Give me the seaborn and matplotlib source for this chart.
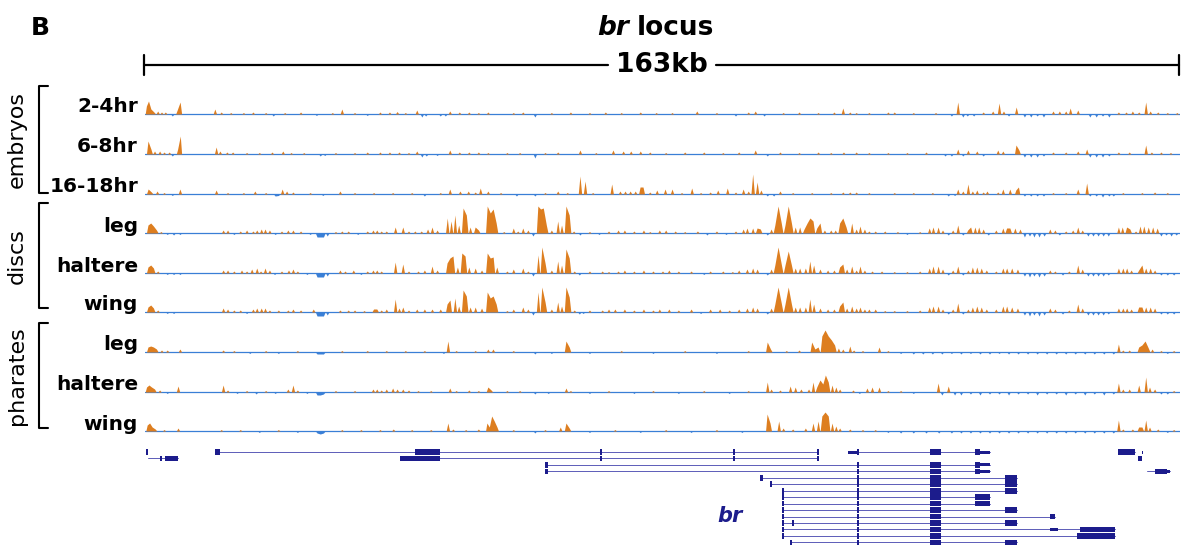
import matplotlib
matplotlib.use("Agg")
import matplotlib.pyplot as plt
from matplotlib.patches import Rectangle
import pandas as pd
import seaborn as sns

sns.set_theme(style="white")
plt.rcParams["font.family"] = ["DejaVu Sans"]
plt.rcParams["text.color"] = "black"

# ---------------------------------------------------------------- data
LOCUS_KB = 163

# ATAC-style signal per sample: (position in kb, signal); negatives are depletion
emb_2_4hr = [(0.3, 8), (0.5, 13), (0.9, 5), (1.4, 2), (2.0, 3), (2.6, 2), (3.2, 2), (4.3, -2), (5.1, 4), (5.5, 12),
             (11.0, 5), (12.0, 2), (13.5, 1.5), (15.5, 1.5), (17.0, 2), (19.0, 1.5), (20.2, -2), (22.0, 1.5), (24.5, 2),
             (27.0, -1.5), (29.5, 1.5), (31.0, 5), (33.0, 1.5), (35.0, -1.5), (37.0, 2), (38.5, 2), (39.7, 2.5),
             (41.0, 1.5), (42.8, 4), (43.6, -3), (44.2, -2), (46.5, -2), (47.3, -2), (48.0, 3), (49.5, 2), (51.0, 2),
             (52.5, 1.5), (54.0, 2), (58.0, 1.5), (59.5, 2), (61.4, -3), (64.0, 1.5), (67.0, 2), (70.0, 1.5), (72.5, 2),
             (75.0, 1.5), (78.0, 2), (80.5, 1.5), (83.0, 1.5), (86.9, 3), (90.0, 1.5), (93.0, -2), (95.0, 2), (96.1, 3),
             (97.5, -2), (100.5, 1.5), (103.0, 2), (106.0, 1.5), (108.5, 2), (109.9, 6), (111.0, 2), (112.0, 1.5),
             (114.0, 1.5), (117.0, 2), (118.0, 2), (121.0, 1.5), (124.5, 1.5), (127.0, -2), (128.0, 12), (128.8, -3),
             (129.5, -2), (130.5, -2), (132.0, 2), (133.5, 3), (134.5, 11), (135.2, 3), (136.0, -2), (137.2, 7),
             (138.5, -3), (139.5, -3), (140.5, -2), (141.5, -3), (143.0, 3), (144.0, 3), (145.0, 3), (145.7, 6),
             (146.9, 4), (148.8, -3), (149.8, -3), (150.8, -2), (151.8, -3), (153.3, 2), (154.5, 2), (155.5, 3),
             (156.5, 2), (157.6, 12), (158.3, 3), (159.5, 2), (161.0, 1.5), (162.5, 1.5)]

emb_6_8hr = [(0.5, 13), (0.9, 5), (1.5, 3), (2.3, 3), (3.0, 2), (3.8, 2), (4.3, -2), (5.2, 5), (5.5, 18),
             (11.2, 7), (11.8, 3), (12.9, 2), (13.8, 2), (16.0, 1.5), (18.0, 1.5), (20.0, 2), (21.7, 3), (23.0, 1.5),
             (25.0, 1.5), (27.6, -2), (28.3, -1.5), (30.0, 1.5), (33.0, 1.5), (35.0, 2), (37.0, 2), (38.5, 2), (40.0, 2),
             (41.5, 1.5), (42.8, 3), (43.6, -3), (44.3, -2), (46.0, -1.5), (48.0, 4), (49.5, 2), (51.0, 2), (52.5, 2),
             (54.0, 1.5), (57.0, 1.5), (59.0, 1.5), (61.4, -4), (63.0, 1.5), (65.0, 2), (68.5, 4), (71.0, 1.5),
             (73.7, 4), (75.3, 3), (76.5, 3), (78.0, 3), (79.5, 2), (82.0, 1.5), (85.0, 2), (88.0, 2), (91.0, 1.5),
             (93.5, 2), (96.1, 4), (98.0, -2), (100.0, 2), (103.0, 1.5), (106.0, 2), (108.0, 1.5), (110.0, 2),
             (112.0, 2), (114.0, 1.5), (117.0, 1.5), (120.0, 1.5), (123.0, 2), (126.0, -2), (127.0, -2), (128.0, 5),
             (128.8, -2), (129.6, 4), (131.0, 3), (132.0, -2), (134.3, 4), (135.1, 3), (137.2, 9), (137.6, 4),
             (138.5, -3), (139.5, -3), (140.5, -3), (141.5, -2), (143.0, 2), (145.0, 2), (146.9, 3), (148.3, 5),
             (148.8, -3), (149.8, -3), (150.8, -3), (151.8, -2), (153.3, 2), (155.0, 2), (157.6, 9), (158.5, 2),
             (160.0, 2), (161.5, 1.5)]

emb_16_18hr = [(0.5, 5), (1.0, 2), (1.9, 3), (3.0, 1.5), (4.3, -1.5), (5.5, 5), (11.2, 4), (13.0, 1.5), (15.5, 1.5),
               (17.3, 3), (19.0, 1.5), (20.5, -2), (21.0, -1.5), (21.6, 5), (22.3, 3), (23.3, 2), (26.0, 1.5),
               (28.0, -1.5), (30.7, 3), (33.0, 1.5), (36.0, 1.5), (39.0, 1.5), (42.0, 1.5), (44.0, -2), (46.5, 1.5),
               (48.0, 5), (49.6, 3), (50.9, 3), (52.0, 2), (52.8, 6), (54.0, 3), (56.0, 1.5), (58.5, -2), (61.4, -2),
               (63.0, 1.5), (65.0, 3), (66.5, 1.5), (68.5, 18), (69.3, 13), (70.5, 1.5), (73.5, 10), (74.8, 3),
               (75.6, 3), (76.4, 3), (77.2, 3), (78.0, 7), (78.4, 7), (79.5, 2), (80.6, 4), (81.9, 5), (83.0, 5),
               (84.5, 1.5), (86.1, 6), (87.5, 1.5), (89.0, 2), (90.2, 4), (91.7, 6), (93.0, 2), (94.2, 5), (95.0, 3),
               (95.7, 20), (96.4, 12), (97.0, 4), (98.0, -2), (99.0, -2), (100.0, 3), (102.0, 1.5), (105.0, 1.5),
               (108.0, 1.5), (109.9, 2), (111.0, 2), (112.0, 2), (114.0, 1.5), (118.0, 1.5), (121.0, 1.5), (124.0, 1.5),
               (126.5, -2), (127.5, -1.5), (128.0, 5), (128.8, 3), (129.6, 10), (130.3, 3), (131.0, 4), (132.0, 2),
               (132.6, 3), (134.3, 2), (135.1, 5), (136.2, 5), (137.2, 4), (137.5, 7), (138.5, -2), (139.5, -2),
               (140.5, -2), (141.5, -2), (143.0, 1.5), (145.0, 1.5), (146.9, 5), (148.3, 11), (148.8, -2), (149.8, -2),
               (150.8, -3), (151.8, -2), (152.5, -2), (154.0, 1.5), (157.0, 1.5), (159.0, 2), (161.0, 1.5)]

disc_leg = [(0.5, 8), (0.9, 10), (1.3, 7), (1.8, 3), (2.5, 1.5), (3.5, -1.5), (4.5, -2), (5.5, -1.5), (12.3, 3),
            (13.0, 3), (14.0, -1.5), (15.0, 2), (16.0, 3), (17.0, 2), (17.6, 3), (18.3, 4), (18.9, 4), (19.6, 3),
            (20.5, -1.5), (21.5, 2), (22.5, 3), (23.3, 3), (24.5, 2), (26.0, -1.5), (27.1, -4), (27.6, -4), (28.1, -4),
            (28.7, -3), (30.0, 1.5), (31.0, 2), (32.0, 2), (33.5, -1.5), (35.0, 2), (35.9, 3), (36.5, 3), (37.2, 2),
            (38.0, 2), (39.4, 6), (40.6, 6), (41.5, 2), (42.5, 2), (43.5, 2), (44.5, 4), (45.2, 6), (46.0, 3),
            (47.6, 15), (48.2, 12), (48.8, 18), (49.4, 8), (50.1, 25), (50.6, 18), (51.2, 6), (52.0, 6), (52.5, 3),
            (53.9, 27), (54.4, 20), (54.8, 24), (55.3, 10), (56.5, 1.5), (58.0, 5), (58.7, 2), (59.5, 5), (60.3, 3),
            (61.1, -3), (61.9, 27), (62.3, 24), (62.7, 25), (63.2, 8), (64.0, 3), (65.0, 12), (65.6, 8), (66.3, 27),
            (66.8, 18), (67.5, 2), (68.5, -2), (70.0, 1.5), (71.5, -1.5), (73.0, 2), (74.5, 3), (75.5, 3), (77.0, 2),
            (78.5, 3), (79.5, 1.5), (81.0, 3), (82.0, 3), (83.5, 2), (85.0, 1.5), (87.0, 2), (88.5, -2), (90.0, 2),
            (91.5, -1.5), (93.0, 2), (94.2, 4), (94.8, 5), (95.7, 5), (96.4, 5), (96.9, 4), (98.0, -2), (98.6, 4),
            (99.2, 8), (99.7, 27), (100.2, 10), (100.8, 8), (101.3, 27), (101.8, 10), (102.4, 6), (103.1, 6),
            (103.8, 4), (104.3, 10), (104.7, 15), (105.2, 12), (105.8, 5), (106.3, 10), (107.0, 3), (108.0, 3),
            (108.7, 3), (109.4, 10), (109.9, 15), (110.4, 6), (111.3, 10), (112.0, 4), (112.6, 7), (113.3, 4),
            (114.0, 2), (115.0, 2), (116.5, 2), (118.5, 1.5), (120.0, -1.5), (122.0, 1.5), (123.5, 5), (124.1, 6),
            (124.9, 6), (125.6, 3), (126.5, -2), (127.2, 3), (128.0, 8), (128.8, -2), (129.6, 3), (130.0, 6),
            (130.7, 6), (131.3, 6), (132.0, 4), (132.8, -2), (134.0, 3), (135.1, 5), (135.7, 5), (136.2, 5), (137.0, 5),
            (137.8, 4), (138.5, -4), (139.3, -3), (140.0, -4), (140.8, -4), (141.6, -3), (142.5, 4), (143.3, 3),
            (144.0, -2), (145.0, 2), (146.1, 3), (146.9, 6), (147.6, 3), (148.5, -3), (149.3, -3), (150.1, -3),
            (150.9, -3), (151.7, -3), (153.3, 6), (153.9, 6), (154.6, 6), (155.1, 4), (156.0, 2), (156.7, 7),
            (157.3, 7), (158.0, 6), (158.7, 6), (159.4, 5), (160.0, -3), (160.8, -2), (161.6, -3), (162.4, -2)]

disc_haltere = [(0.5, 6), (0.9, 8), (1.3, 5), (2.0, 2), (3.5, -1.5), (4.5, -1.5), (5.5, -1.5), (12.3, 3), (13.0, 3),
                (14.0, 2), (15.2, 3), (16.0, 2), (16.8, 4), (17.6, 5), (18.2, 2), (18.9, 5), (19.6, 3), (20.4, -1.5),
                (21.5, 2), (22.6, 3), (23.3, 4), (24.0, 2), (25.5, -1.5), (27.1, -4), (27.6, -4), (28.1, -4),
                (28.7, -3), (30.7, 3), (31.5, 2), (32.8, 3), (34.0, -1.5), (35.0, 2), (35.9, 3), (36.5, 3), (37.2, 2),
                (39.4, 11), (40.6, 9), (41.5, 2), (43.0, 2), (44.0, 3), (45.2, 7), (46.0, 3), (47.6, 10), (48.0, 15),
                (48.5, 17), (49.2, 6), (49.9, 20), (50.4, 17), (51.0, 6), (52.0, 5), (53.0, 3), (53.9, 20), (54.4, 15),
                (54.8, 16), (55.4, 6), (57.0, 2), (58.0, 4), (59.5, 5), (60.3, 2), (61.1, -3), (61.9, 18), (62.5, 26),
                (63.0, 10), (64.0, 3), (65.0, 12), (65.6, 8), (66.3, 24), (66.8, 15), (67.6, 2), (68.4, -2), (70.0, 2),
                (72.0, 2), (73.0, 1.5), (74.5, 2), (75.5, 3), (77.0, 2), (78.5, 3), (80.0, 2), (81.5, 2), (82.5, 3),
                (84.0, 2), (86.0, 2), (88.0, -1.5), (89.0, 2), (91.0, 2), (92.5, 1.5), (93.5, 3), (94.8, 4), (95.7, 5),
                (96.4, 4), (98.0, -2), (98.6, 4), (99.2, 8), (99.7, 26), (100.2, 9), (100.8, 8), (101.3, 22),
                (101.8, 8), (102.4, 5), (103.1, 5), (104.0, 5), (104.7, 12), (105.3, 8), (106.3, 4), (107.5, 3),
                (108.5, 3), (109.4, 6), (109.9, 9), (110.5, 4), (111.3, 7), (112.0, 3), (112.6, 7), (113.3, 3),
                (114.5, 2), (116.0, 2), (118.0, 1.5), (120.0, 1.5), (122.0, 2), (123.5, 5), (124.1, 7), (124.9, 7),
                (125.6, 4), (126.5, -2), (127.2, 3), (128.0, 7), (128.8, -2), (129.6, 3), (130.3, 6), (131.0, 6),
                (131.7, 5), (132.5, 3), (134.0, 2), (135.1, 5), (135.7, 5), (136.5, 5), (137.4, 4), (138.5, -3),
                (139.3, -4), (140.0, -3), (140.8, -4), (141.6, -3), (142.5, 3), (143.3, 2), (144.5, -2), (145.5, 2),
                (146.9, 8), (147.6, 4), (148.5, -3), (149.3, -3), (150.1, -3), (150.9, -3), (151.7, -2), (153.3, 5),
                (154.0, 5), (154.6, 5), (155.3, 3), (156.5, 3), (157.0, 8), (157.6, 5), (158.3, 5), (159.0, 3),
                (160.0, -2), (161.0, -2), (162.0, -2)]

disc_wing = [(0.5, 5), (0.9, 7), (1.3, 4), (2.0, 2), (3.5, -1.5), (4.5, -1.5), (12.3, 4), (13.0, 3), (14.0, 2),
             (15.0, 2), (16.0, -1.5), (17.0, 3), (17.6, 4), (18.3, 4), (18.9, 4), (19.6, 2), (21.0, 2), (22.5, 2),
             (23.3, 3), (24.5, 2), (26.5, 3), (27.1, -4), (27.6, -4), (28.1, -4), (28.7, -3), (30.7, 2), (32.0, 2),
             (33.0, 2), (34.5, 1.5), (36.0, 3), (36.5, 3), (37.2, 2), (38.0, 3), (39.4, 13), (40.0, 4), (40.6, 5),
             (41.5, 2), (42.8, 3), (44.0, 3), (45.2, 3), (46.5, 3), (47.6, 8), (48.0, 12), (48.8, 14), (49.4, 6),
             (50.1, 22), (50.6, 16), (51.2, 5), (52.0, 5), (53.0, 4), (53.9, 20), (54.4, 14), (54.8, 16), (55.3, 8),
             (57.0, 1.5), (58.0, 3), (59.5, 5), (60.3, 3), (61.1, -3), (61.9, 20), (62.5, 25), (63.0, 10), (64.0, 3),
             (65.0, 10), (65.6, 6), (66.3, 25), (66.8, 15), (67.6, 2), (68.4, -2), (69.0, -1.5), (70.0, 2), (72.0, 2),
             (73.0, 3), (74.0, 3), (75.5, 3), (77.0, 2), (78.5, 3), (80.0, 2), (81.0, 3), (82.5, 3), (84.0, 2),
             (86.0, 3), (87.5, -1.5), (89.0, 3), (90.5, 3), (92.0, 2), (93.5, 3), (94.8, 4), (95.7, 5), (96.4, 4),
             (98.0, -2), (98.6, 4), (99.2, 8), (99.7, 25), (100.2, 9), (100.8, 8), (101.3, 25), (101.8, 8), (102.4, 5),
             (103.1, 5), (104.0, 5), (104.7, 13), (105.3, 8), (106.3, 4), (107.5, 3), (108.5, 3), (109.4, 6),
             (109.9, 10), (110.5, 4), (111.3, 6), (112.0, 4), (112.6, 5), (113.3, 3), (114.0, 3), (115.0, 3),
             (116.5, 1.5), (118.0, 1.5), (120.0, 1.5), (122.0, 2), (123.5, 5), (124.1, 6), (124.9, 6), (125.6, 3),
             (126.5, -2), (127.2, 3), (128.0, 9), (128.8, -2), (129.6, 3), (130.3, 5), (131.0, 6), (131.7, 5),
             (132.5, 3), (134.0, 3), (135.1, 6), (135.7, 6), (136.5, 5), (137.4, 4), (138.5, -3), (139.3, -4),
             (140.0, -3), (140.8, -4), (141.6, -3), (142.5, 4), (143.3, 3), (144.5, -2), (145.5, 2), (146.9, 8),
             (147.6, 4), (148.5, -3), (149.3, -3), (150.1, -3), (150.9, -3), (151.7, -2), (153.3, 4), (154.0, 4),
             (154.6, 4), (155.3, 3), (156.5, 5), (157.0, 5), (157.6, 5), (158.3, 5), (159.0, 4), (160.0, -2),
             (161.0, -2), (162.0, -2)]

pharate_leg = [(0.5, 5), (0.9, 6), (1.3, 5), (1.8, 3), (2.6, 2), (3.5, 2), (5.5, 3), (12.3, 2), (14.0, 1.5),
               (16.5, -1.5), (19.0, 1.5), (21.0, -1.5), (24.0, 1.5), (27.1, -2), (27.6, -2), (28.1, -2), (31.0, 1.5),
               (35.0, 1.5), (38.0, 1.5), (41.0, 1.5), (44.0, 1.5), (47.0, -1.5), (47.7, 11), (49.0, 1.5), (52.0, 1.5),
               (54.0, 3), (54.8, 3), (58.0, 1.5), (61.4, -2), (64.0, -1.5), (66.3, 11), (66.8, 5), (70.0, -1.5),
               (75.0, 1.5), (80.0, -1.5), (85.0, 1.5), (90.0, -1.5), (95.0, 1.5), (98.0, 10), (98.5, 3), (101.0, 1.5),
               (103.0, 2), (105.0, 10), (105.5, 3), (106.0, 5), (106.6, 16), (107.1, 22), (107.6, 16), (108.1, 12),
               (108.6, 7), (109.2, 4), (109.9, 3), (111.0, 6), (111.6, 2), (113.0, 1.5), (115.6, 5), (117.0, 1.5),
               (119.0, -1.5), (121.0, -2), (122.5, -2), (124.0, -2), (125.5, -2), (127.0, -1.5), (128.5, -2),
               (130.0, -1.5), (131.5, -2), (133.0, -2), (134.5, -1.5), (136.0, -2), (137.5, -2), (139.0, -2),
               (140.5, -2), (142.0, -2), (143.5, -2), (145.0, -2), (146.5, -2), (148.0, -2), (149.5, -2), (151.0, -2),
               (152.5, -2), (153.3, 8), (154.0, 2), (155.0, 2), (156.5, 5), (157.0, 7), (157.5, 11), (158.0, 4),
               (158.6, 3), (160.0, 1.5), (161.0, -1.5), (162.0, 1.5)]

pharate_haltere = [(0.3, 5), (0.6, 7), (1.0, 5), (1.5, 3), (2.3, 2), (3.5, -1.5), (5.2, 6), (12.3, 7), (13.0, 2),
                   (14.5, -1.5), (16.0, 1.5), (17.5, -2), (19.0, 1.5), (20.5, -1.5), (22.5, 3), (23.3, 7), (24.0, 2),
                   (25.5, -1.5), (27.1, -3), (27.6, -3), (28.1, -2), (30.0, 1.5), (33.0, 1.5), (35.9, 3), (36.5, 3),
                   (37.2, 2), (38.0, 3), (39.0, 4), (39.7, 3), (40.6, 3), (41.5, 2), (43.0, 1.5), (45.0, 1.5), (48.0, 4),
                   (49.0, 1.5), (51.0, 2), (52.5, 1.5), (54.0, 5), (54.5, 2), (57.0, 1.5), (59.0, 1.5), (61.4, -2),
                   (63.5, -1.5), (66.3, 4), (67.0, 1.5), (70.0, -1.5), (73.0, 1.5), (77.0, -1.5), (80.0, 1.5),
                   (84.0, -1.5), (88.0, 1.5), (92.0, -1.5), (95.0, 1.5), (98.0, 10), (98.6, 3), (100.0, 2), (101.6, 6),
                   (102.4, 5), (103.3, 3), (104.5, 3), (105.2, 10), (105.8, 5), (106.3, 12), (106.8, 8), (107.1, 17),
                   (107.6, 10), (108.2, 7), (108.8, 5), (109.4, 3), (111.5, 2), (112.5, -1.5), (113.7, 4), (114.5, 5),
                   (115.6, 5), (117.0, 1.5), (119.0, 1.5), (121.0, -1.5), (124.9, 9), (125.5, -3), (126.5, 6),
                   (127.5, -3), (128.5, -3), (130.0, -2), (131.5, -3), (133.0, -2), (134.5, -2), (136.0, -3),
                   (137.5, -2), (139.0, -2), (140.5, -3), (142.0, -2), (143.5, -2), (145.0, -3), (146.5, -2),
                   (148.0, -3), (149.5, -2), (151.0, -3), (152.5, -2), (153.3, 9), (154.0, 3), (155.0, 3), (156.5, 7),
                   (157.6, 15), (158.2, 5), (159.0, 3), (160.0, -2), (161.0, -2), (162.0, 1.5)]

pharate_wing = [(0.4, 6), (0.7, 8), (1.1, 4), (1.6, 2), (3.0, 1.5), (5.2, 3), (12.0, 1.5), (15.0, 1.5), (18.0, -1.5),
                (21.0, 1.5), (24.0, -1.5), (27.1, -2), (27.6, -3), (28.1, -2), (31.0, 1.5), (34.0, 1.5), (37.0, 1.5),
                (39.1, 2), (42.0, 1.5), (45.0, 1.5), (47.7, 8), (48.5, 2), (50.5, 1.5), (52.5, 2), (53.9, 8), (54.2, 4),
                (54.6, 15), (55.0, 10), (55.4, 4), (58.0, 1.5), (61.4, -2), (63.0, 1.5), (65.4, 4), (66.3, 8),
                (66.8, 3), (70.0, -1.5), (74.0, 1.5), (78.0, -1.5), (82.0, 1.5), (86.0, -1.5), (90.0, 1.5), (94.0, -1.5),
                (98.0, 17), (98.4, 8), (99.8, 10), (100.5, 3), (102.0, 2), (104.0, 3), (105.2, 8), (106.0, 10),
                (106.6, 15), (107.1, 19), (107.6, 15), (108.2, 8), (108.8, 5), (109.4, 3), (111.0, 2), (113.0, 1.5),
                (115.0, 1.5), (117.0, -1.5), (119.0, -2), (121.0, -2), (123.0, -2), (125.0, -2), (127.0, -2),
                (128.5, -2), (130.0, -2), (131.5, -2), (133.0, -2), (134.5, -2), (136.0, -2), (137.5, -2), (139.0, -2),
                (140.5, -2), (142.0, -2), (143.5, -2), (145.0, -2), (146.5, -2), (148.0, -2), (149.5, -2), (151.0, -2),
                (152.5, -2), (153.3, 11), (154.0, 2), (155.5, 2), (156.5, 4), (157.0, 4), (157.6, 11), (158.2, 4),
                (159.5, 2), (161.0, -1.5), (162.0, 1.5)]

TRACKS = [emb_2_4hr, emb_6_8hr, emb_16_18hr, disc_leg, disc_haltere, disc_wing,
          pharate_leg, pharate_haltere, pharate_wing]
TRACK_LABELS = ["2-4hr", "6-8hr", "16-18hr", "leg", "haltere", "wing", "leg", "haltere", "wing"]
GROUP_LABELS = ["embryos", "discs", "pharates"]

# gene models: transcripts (row, start kb, end kb)
TX_ROW = [0, 0, 0, 1, 1, 2, 3, 3, 4, 5, 6, 7, 8, 9, 10, 11, 12, 13, 14]
TX_START = [11.0, 110.7, 153.2, 0.5, 40.2, 63.0, 63.0, 157.8, 96.9, 98.4, 100.3, 100.3, 100.3, 100.3, 100.3,
            100.3, 100.3, 100.3, 101.6]
TX_END = [106.0, 133.1, 155.9, 5.2, 106.0, 133.1, 133.1, 161.4, 137.3, 137.3, 137.3, 133.1, 133.1, 137.3, 143.3,
          137.3, 152.8, 152.8, 137.3]

# exons (row, start kb, end kb, kind)
EXON_ROW = [0, 0, 0, 0, 0, 0, 0, 0, 0, 0, 0,
            1, 1, 1, 1, 1, 1, 1,
            2, 2, 2, 3, 3, 3, 3, 3,
            4, 5, 6, 7, 8, 9, 10, 11, 11, 12, 12, 12, 13, 13, 14]
EXON_START = [0.1, 11.0, 42.5, 71.7, 92.6, 105.9, 110.7, 130.7, 131.5, 153.2, 157.0,
              2.4, 3.1, 40.2, 71.7, 92.6, 105.9, 156.4,
              63.0, 130.7, 131.5, 63.0, 130.7, 131.5, 159.1, 161.0,
              135.4, 135.4, 135.4, 130.7, 130.7, 135.4, 142.5, 101.9, 135.4, 100.3, 142.5, 147.3, 146.8, 147.3, 135.4]
EXON_END = [0.5, 11.8, 46.5, 71.9, 92.8, 106.1, 112.1, 131.5, 133.1, 155.9, 157.1,
            2.7, 5.2, 46.5, 71.9, 92.8, 106.1, 157.0,
            63.4, 131.5, 133.1, 63.4, 131.5, 133.1, 161.0, 161.4,
            137.3, 137.3, 137.3, 133.1, 133.1, 137.3, 143.3, 102.1, 137.3, 100.7, 143.8, 152.8, 147.3, 152.8, 137.3]
EXON_KIND = ["thick", "thick", "thick", "tick", "tick", "tick", "thin", "thick", "thin", "thick", "thin",
             "thick", "thick", "thick", "tick", "tick", "tick", "thick",
             "thick", "thick", "thin", "thick", "thick", "thin", "thick", "thin",
             "thick", "thick", "thick", "thick", "thick", "thick", "thick", "tick", "thick", "thick", "thin",
             "thick", "thick", "thick", "thick"]
# exons shared by the br isoforms, and the rows carrying them
SHARED_EXONS = [(112.1, 112.5), (123.7, 125.3)]
SHARED_ROWS = [0, 2, 3, 4, 5, 6, 7, 8, 9, 10, 11, 12, 13, 14]
FIRST_EXON_ROWS = [4, 5, 6, 7, 8, 9, 10, 11, 13, 14]

# ---------------------------------------------------------------- layout
W, H, DPI = 1181, 548, 100
ORANGE = "#DD7E20"
BLUE = "#3A7FD6"
NAVY = "#1C1C8C"
INTRON = "#5C5CB8"
TRACK_X0, TRACK_X1 = 145, 1180
TRACK_BASE_Y = [114, 154, 194, 233, 273, 312, 352, 392, 431]
UP, DOWN = 31, 8
HALF_BIN = 0.26   # kb on each side of a signal sample
EDGE_PAD = 0.02   # narrow empty bin that closes each isolated peak

fig = plt.figure(figsize=(W / DPI, H / DPI), dpi=DPI)


def px_axes(x0, y0, x1, y1):
    ax = fig.add_axes([x0 / W, 1 - y1 / H, (x1 - x0) / W, (y1 - y0) / H])
    ax.set_axis_off()
    return ax


def sample_edges(positions):
    """One bin per sample, split halfway between close neighbours; isolated
    samples get a thin empty bin on each side so the polygon drops to zero."""
    ps = sorted(positions)
    edges = {0.0, float(LOCUS_KB)}
    for i, p in enumerate(ps):
        lo, hi = p - HALF_BIN, p + HALF_BIN
        lo_free = hi_free = True
        if i > 0 and (ps[i - 1] + p) / 2 > lo:
            lo, lo_free = (ps[i - 1] + p) / 2, False
        if i < len(ps) - 1 and (p + ps[i + 1]) / 2 < hi:
            hi, hi_free = (p + ps[i + 1]) / 2, False
        edges.update((lo, hi))
        if lo_free:
            edges.add(lo - EDGE_PAD)
        if hi_free:
            edges.add(hi + EDGE_PAD)
    return sorted(set(round(min(max(e, 0.0), LOCUS_KB), 6) for e in edges))


# signal tracks
for base, track in zip(TRACK_BASE_Y, TRACKS):
    ax = px_axes(TRACK_X0, base - UP, TRACK_X1, base + DOWN)
    df = pd.DataFrame(track, columns=["kb", "signal"])
    ax.axhline(0, color=BLUE, lw=0.9, zorder=1)
    for sub, col in ((df[df.signal > 0], ORANGE), (df[df.signal < 0], BLUE)):
        sns.histplot(data=sub, x="kb", weights="signal", bins=sample_edges(sub.kb),
                     element="poly", fill=True, color=col, alpha=1.0, linewidth=0, ax=ax, zorder=2)
    ax.set_xlim(0, LOCUS_KB)
    ax.set_ylim(-DOWN, UP)
    ax.set_axis_off()

# gene annotation track
gax = px_axes(TRACK_X0, 440, TRACK_X1, 548)
gax.set_xlim(0, LOCUS_KB)
gax.set_ylim(548, 440)


def row_y(r):
    return 452 + 6.45 * r


for r, s, e in zip(TX_ROW, TX_START, TX_END):
    gax.plot([s, e], [row_y(r)] * 2, color=INTRON, lw=0.7, zorder=1)

sizes = {"thick": 5.6, "thin": 3.0, "tick": 5.6}


def exon(r, s, e, kind):
    h = sizes[kind]
    w = max(e - s, 0.25)
    gax.add_patch(Rectangle((s, row_y(r) - h / 2), w, h, facecolor=NAVY, edgecolor="none", zorder=3))


for r, s, e, k in zip(EXON_ROW, EXON_START, EXON_END, EXON_KIND):
    exon(r, s, e, k)
for r in SHARED_ROWS:
    for s, e in SHARED_EXONS:
        exon(r, s, e, "thick")
for r in FIRST_EXON_ROWS:
    s = TX_START[TX_ROW.index(r, 5)]
    exon(r, s, s + 0.35, "thick")

# text, brackets and scale bar on a pixel overlay
ov = fig.add_axes([0, 0, 1, 1])
ov.set_xlim(0, W)
ov.set_ylim(H, 0)
ov.set_axis_off()

ov.text(31, 28, "B", fontsize=18, fontweight="bold", ha="left", va="center")
ov.text(597, 28, "br", fontsize=19, fontweight="bold", style="italic", ha="left", va="center")
ov.text(637, 28, "locus", fontsize=19, fontweight="bold", ha="left", va="center")

ov.plot([144, 608], [65, 65], color="black", lw=1.6)
ov.plot([716, 1179], [65, 65], color="black", lw=1.6)
ov.plot([144, 144], [55, 75], color="black", lw=1.6)
ov.plot([1179, 1179], [55, 75], color="black", lw=1.6)
ov.text(662, 65, f"{LOCUS_KB}kb", fontsize=19, fontweight="bold", ha="center", va="center")

for base, lab in zip(TRACK_BASE_Y, TRACK_LABELS):
    ov.text(138, base - 7, lab, fontsize=14.5, fontweight="bold", ha="right", va="center")

for (y0, y1, yc), lab in zip([(86, 193, 140), (203, 308, 256), (323, 428, 376)], GROUP_LABELS):
    ov.plot([48, 39, 39, 48], [y0, y0, y1, y1], color="black", lw=1.5)
    ov.text(17, yc, lab, fontsize=16, rotation=90, ha="center", va="center")

ov.text(730, 516, "br", fontsize=15, fontweight="bold", style="italic", color=NAVY, ha="center", va="center")

fig.savefig("out.png", dpi=DPI)
